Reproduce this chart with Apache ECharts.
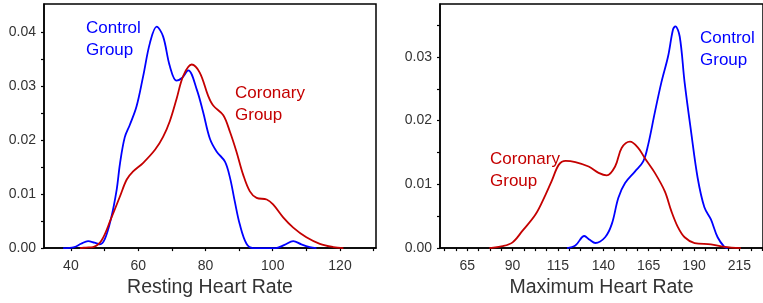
<!DOCTYPE html>
<html>
<head>
<meta charset="utf-8">
<script src="https://cdn.jsdelivr.net/npm/echarts@6/dist/echarts.min.js"></script>
<style>
  html, body { margin: 0; padding: 0; background: #fff; }
  #main { width: 763px; height: 303px; }
</style>
</head>
<body>
<div id="main"></div>
<script>
// resting heart rate densities
var restControlX = [37.7, 41, 43, 45.1, 47, 48.6, 50.1, 51.9, 53.6, 54.6, 56, 57.5, 59.5, 61.5, 63.5, 65.5, 67.4, 69.4, 71.4, 73, 74.9, 77.4, 79.3, 81.3, 83.3, 85.8, 87.3, 88.7, 90.2, 92.2, 94.2, 97, 101, 103.5, 106.1, 108.5, 111, 113];
var restControlY = [0, 0.0002, 0.0008, 0.0013, 0.001, 0.0007, 0.0017, 0.0054, 0.0108, 0.0157, 0.0205, 0.0228, 0.0262, 0.0319, 0.038, 0.041, 0.0392, 0.0337, 0.031, 0.0315, 0.0329, 0.0294, 0.0252, 0.0203, 0.0179, 0.016, 0.013, 0.0087, 0.0044, 0.0008, 0, 0, 0, 0.0006, 0.0013, 0.0007, 0.0002, 0];
var restCoronaryX = [42.7, 44.5, 46.6, 49.1, 51.9, 54.6, 56.6, 58.5, 61.5, 65, 67.4, 69.4, 71.4, 73.4, 75.9, 78.3, 80.8, 82.3, 85.3, 87.3, 89.2, 91.2, 93.2, 95.2, 98.2, 100.1, 103.1, 106.1, 110, 114, 118, 121];
var restCoronaryY = [0, 0.0001, 0.0002, 0.0014, 0.0054, 0.0096, 0.0127, 0.0142, 0.0158, 0.0182, 0.0206, 0.0235, 0.0276, 0.0319, 0.034, 0.0325, 0.0282, 0.0264, 0.0246, 0.0215, 0.0179, 0.0136, 0.0105, 0.0093, 0.009, 0.0081, 0.0057, 0.0038, 0.002, 0.0008, 0.0002, 0];

// maximum heart rate densities
var maxControlX = [120, 124.6, 129.5, 132.5, 135.6, 141, 144.7, 148.3, 152, 157.4, 162, 164.7, 168.4, 172, 175.7, 178.4, 179.7, 182.1, 184.8, 188.4, 192, 195.7, 199.3, 203, 206.7, 208.5];
var maxControlY = [0, 0.0004, 0.0019, 0.0013, 0.0008, 0.0017, 0.0038, 0.0079, 0.0102, 0.012, 0.0136, 0.0162, 0.0213, 0.026, 0.0301, 0.0343, 0.0348, 0.0332, 0.026, 0.0182, 0.011, 0.0064, 0.0045, 0.0017, 0.0002, 0];
var maxCoronaryX = [77.2, 84.5, 90, 95.4, 102.7, 108.2, 111.8, 115.5, 119.2, 124.6, 131.9, 137.4, 141.9, 146.5, 150.1, 154.7, 159.3, 162.9, 168.4, 173.9, 177.5, 181.1, 184.8, 190.3, 199.3, 206.7, 215.8];
var maxCoronaryY = [0, 0.0003, 0.0009, 0.0027, 0.0053, 0.0084, 0.0107, 0.0131, 0.0137, 0.0135, 0.0128, 0.0118, 0.0114, 0.0128, 0.0157, 0.0167, 0.0157, 0.0141, 0.0118, 0.0089, 0.0058, 0.0033, 0.0017, 0.0008, 0.0006, 0.0002, 0];

// tick labels
var restXLabels = [40, 60, 80, 100, 120];
var restXTicks = [40, 50, 60, 70, 80, 90, 100, 110, 120, 130];
var restYLabels = [0, 0.01, 0.02, 0.03, 0.04];
var restYTicks = [0, 0.005, 0.01, 0.015, 0.02, 0.025, 0.03, 0.035, 0.04];
var maxXLabels = [65, 90, 115, 140, 165, 190, 215];
var maxXTicks = [52.5, 58.75, 65, 71.25, 77.5, 83.75, 90, 96.25, 102.5, 108.75, 115, 121.25, 127.5, 133.75, 140, 146.25, 152.5, 158.75, 165, 171.25, 177.5, 183.75, 190, 196.25, 202.5, 208.75, 215, 221.25, 227.5];
var maxYLabels = [0, 0.01, 0.02, 0.03];
var maxYTicks = [0, 0.005, 0.01, 0.015, 0.02, 0.025, 0.03, 0.035];

var BLUE = '#0000ff';
var RED = '#c40000';
var FONT = '"Liberation Sans", Arial, Helvetica, sans-serif';

function pairs(xs, ys) {
    return xs.map(function (x, i) { return [x, ys[i]]; });
}

function xAxisOf(grid, min, max, labels, ticks, name) {
    return {
        type: 'value', gridIndex: grid, min: min, max: max,
        name: name, nameLocation: 'middle', nameGap: 23,
        nameTextStyle: { fontFamily: FONT, fontSize: 19.5, color: '#333' },
        axisLine: { lineStyle: { color: '#000', width: 1.5 } },
        axisTick: { show: true, length: 3, customValues: ticks, lineStyle: { color: '#000', width: 1.2 } },
        axisLabel: { customValues: labels, margin: 11, fontFamily: FONT, fontSize: 14, color: '#333' },
        splitLine: { show: false }
    };
}

function yAxisOf(grid, max, labels, ticks) {
    return {
        type: 'value', gridIndex: grid, min: 0, max: max,
        axisLine: { show: true, lineStyle: { color: '#000', width: 1.5 } },
        axisTick: { show: true, length: 3, customValues: ticks, lineStyle: { color: '#000', width: 1.2 } },
        axisLabel: {
            customValues: labels, margin: 8, fontFamily: FONT, fontSize: 14, color: '#333',
            formatter: function (v) { return v.toFixed(2); }
        },
        splitLine: { show: false }
    };
}

function curve(xi, yi, xs, ys, color) {
    return {
        type: 'line', xAxisIndex: xi, yAxisIndex: yi,
        data: pairs(xs, ys), smooth: 0.35, showSymbol: false, symbol: 'none',
        lineStyle: { color: color, width: 1.8 }, silent: true
    };
}

var myChart = echarts.init(document.getElementById('main'));
myChart.setOption({
    animation: false,
    grid: [
        { left: 44, top: 4, width: 332, height: 247, show: true, borderColor: '#000', borderWidth: 1.5, containLabel: false },
        { left: 440, top: 4, width: 325, height: 247, show: true, borderColor: '#000', borderWidth: 1.5, containLabel: false }
    ],
    xAxis: [
        xAxisOf(0, 32, 130.7, restXLabels, restXTicks, 'Resting Heart Rate'),
        xAxisOf(1, 50, 228, maxXLabels, maxXTicks, 'Maximum Heart Rate')
    ],
    yAxis: [
        yAxisOf(0, 0.0452, restYLabels, restYTicks),
        yAxisOf(1, 0.0383, maxYLabels, maxYTicks)
    ],
    series: [
        curve(0, 0, restControlX, restControlY, BLUE),
        curve(0, 0, restCoronaryX, restCoronaryY, RED),
        curve(1, 1, maxControlX, maxControlY, BLUE),
        curve(1, 1, maxCoronaryX, maxCoronaryY, RED)
    ],
    graphic: [
        { type: 'text', left: 86, top: 17, style: { text: 'Control\nGroup', font: '17px ' + FONT, fill: BLUE, lineHeight: 22 } },
        { type: 'text', left: 235, top: 82, style: { text: 'Coronary\nGroup', font: '17px ' + FONT, fill: RED, lineHeight: 22 } },
        { type: 'text', left: 700, top: 27, style: { text: 'Control\nGroup', font: '17px ' + FONT, fill: BLUE, lineHeight: 22 } },
        { type: 'text', left: 490, top: 148, style: { text: 'Coronary\nGroup', font: '17px ' + FONT, fill: RED, lineHeight: 22 } }
    ]
});
</script>
</body>
</html>
